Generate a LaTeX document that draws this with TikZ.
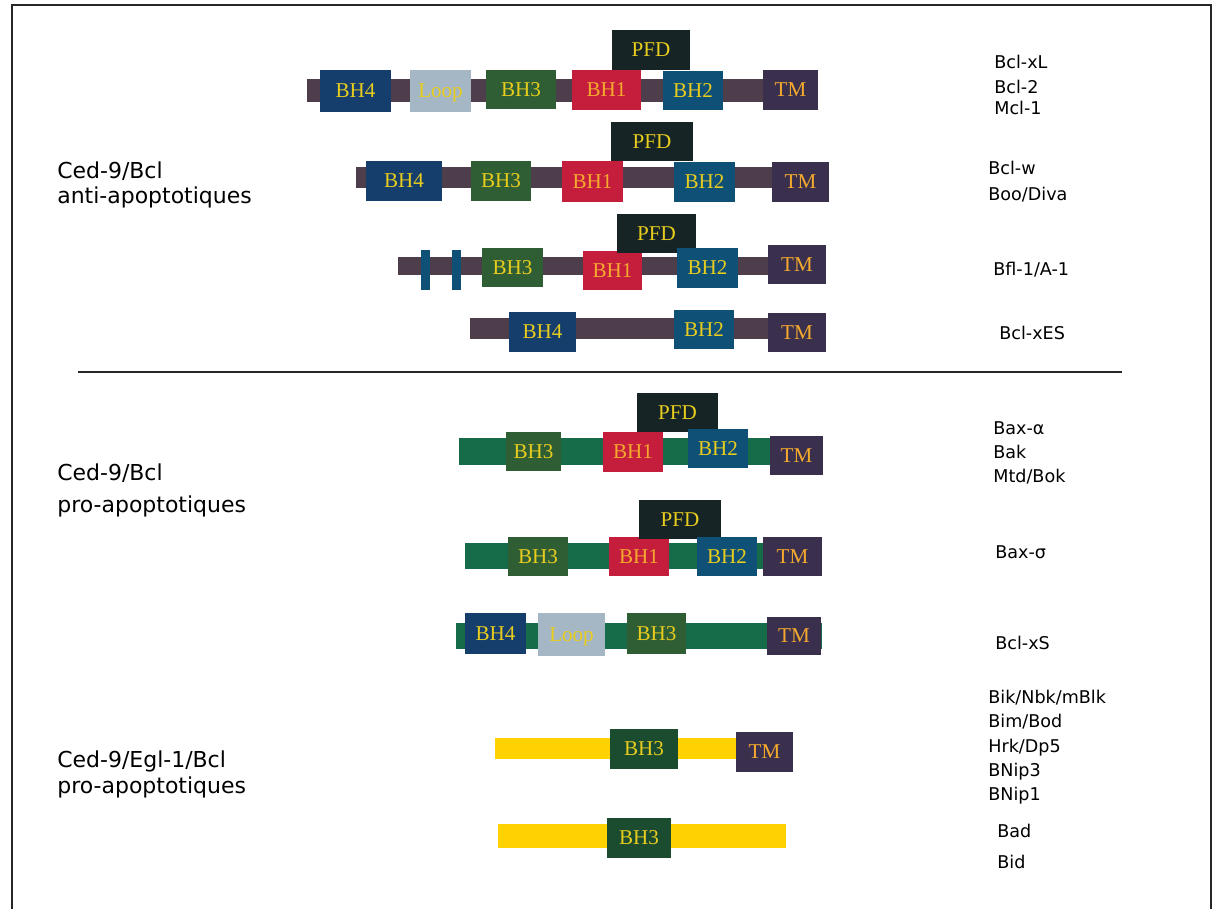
\documentclass[tikz,border=0pt]{standalone}
\usepackage{fontspec}
\setmainfont{Liberation Serif}
\newfontfamily\labelfont{DejaVu Sans}
\usetikzlibrary{fit}
\definecolor{antibar}{RGB}{78,62,76}
\definecolor{probar}{RGB}{22,108,72}
\definecolor{eglbar}{RGB}{255,210,0}
\definecolor{bhfour}{RGB}{22,62,108}
\definecolor{loopgray}{RGB}{165,182,196}
\definecolor{bhthree}{RGB}{48,94,52}
\definecolor{bhthreedark}{RGB}{28,76,48}
\definecolor{bhone}{RGB}{196,30,60}
\definecolor{pfdblack}{RGB}{22,36,38}
\definecolor{bhtwo}{RGB}{14,80,118}
\definecolor{tmpurple}{RGB}{58,48,78}
\definecolor{domyellow}{RGB}{232,205,30}
\definecolor{domorange}{RGB}{245,170,45}

\begin{document}
\begin{tikzpicture}[
  x=0.02cm, y=-0.02cm,
  bar/.style={fill=#1, draw=none, inner sep=0pt},
  domtext/.style={font=\fontsize{12}{12}\selectfont, text=domyellow,
    inner sep=0pt, text height=0.66em, text depth=0pt, yshift=-0.5pt},
  dom/.style 2 args={fill=#1, draw=none, inner sep=0pt,
    label={[domtext]center:#2}},
  hotdom/.style 2 args={fill=#1, draw=none, inner sep=0pt,
    label={[domtext, text=domorange]center:#2}},
  group/.style={anchor=base west, inner sep=0pt, font=\fontsize{12.5}{15}\labelfont},
  prot/.style={anchor=base west, inner sep=0pt, font=\fontsize{10}{12}\labelfont},
  frame/.style={line width=1.2pt, black!85}
]
\useasboundingbox (0,0) rectangle (1214,909);
\draw[frame] (12,909) -- (12,5) -- (1211,5) -- (1211,909);

% anti-apoptotic family
\node[bar=antibar, fit={(307,79)(818,102)}] (r1bar) {};
\node[dom={bhfour}{BH4}, fit={(320,70)(391,112)}] (r1bh4) {};
\node[dom={loopgray}{Loop}, fit={(410,70)(471,112)}] (r1loop) {};
\node[dom={bhthree}{BH3}, fit={(486,70)(556,109)}] (r1bh3) {};
\node[hotdom={bhone}{BH1}, fit={(572,70)(641,110)}] (r1bh1) {};
\node[dom={pfdblack}{PFD}, fit={(612,30)(690,70)}] (r1pfd) {};
\node[dom={bhtwo}{BH2}, fit={(663,71)(723,110)}] (r1bh2) {};
\node[hotdom={tmpurple}{TM}, fit={(763,70)(818,110)}] (r1tm) {};

\node[bar=antibar, fit={(356,167)(829,188)}] (r2bar) {};
\node[dom={bhfour}{BH4}, fit={(366,161)(442,201)}] (r2bh4) {};
\node[dom={bhthree}{BH3}, fit={(471,161)(531,201)}] (r2bh3) {};
\node[hotdom={bhone}{BH1}, fit={(562,161)(623,202)}] (r2bh1) {};
\node[dom={pfdblack}{PFD}, fit={(611,122)(693,161)}] (r2pfd) {};
\node[dom={bhtwo}{BH2}, fit={(674,162)(735,202)}] (r2bh2) {};
\node[hotdom={tmpurple}{TM}, fit={(772,162)(829,202)}] (r2tm) {};

\node[bar=antibar, fit={(398,257)(826,275)}] (r3bar) {};
\node[bar=bhtwo, fit={(421,250)(430,290)}] (r3tick1) {};
\node[bar=bhtwo, fit={(452,250)(461,290)}] (r3tick2) {};
\node[dom={bhthree}{BH3}, fit={(482,248)(543,287)}] (r3bh3) {};
\node[hotdom={bhone}{BH1}, fit={(583,251)(642,290)}] (r3bh1) {};
\node[dom={pfdblack}{PFD}, fit={(617,214)(696,253)}] (r3pfd) {};
\node[dom={bhtwo}{BH2}, fit={(677,248)(738,288)}] (r3bh2) {};
\node[hotdom={tmpurple}{TM}, fit={(768,245)(826,284)}] (r3tm) {};

\node[bar=antibar, fit={(470,318)(826,339)}] (r4bar) {};
\node[dom={bhfour}{BH4}, fit={(509,312)(576,352)}] (r4bh4) {};
\node[dom={bhtwo}{BH2}, fit={(674,310)(734,349)}] (r4bh2) {};
\node[hotdom={tmpurple}{TM}, fit={(768,313)(826,352)}] (r4tm) {};

\coordinate (sepL) at (78,372);
\coordinate (sepR) at (1122,372);
\draw[line width=1.1pt, black!85] (sepL) -- (sepR);

% pro-apoptotic family
\node[bar=probar, fit={(459,438)(822,465)}] (r5bar) {};
\node[dom={bhthree}{BH3}, fit={(506,432)(561,471)}] (r5bh3) {};
\node[hotdom={bhone}{BH1}, fit={(603,432)(663,472)}] (r5bh1) {};
\node[dom={pfdblack}{PFD}, fit={(637,393)(718,432)}] (r5pfd) {};
\node[dom={bhtwo}{BH2}, fit={(688,429)(748,468)}] (r5bh2) {};
\node[hotdom={tmpurple}{TM}, fit={(770,436)(823,475)}] (r5tm) {};

\node[bar=probar, fit={(465,543)(822,569)}] (r6bar) {};
\node[dom={bhthree}{BH3}, fit={(508,537)(568,576)}] (r6bh3) {};
\node[hotdom={bhone}{BH1}, fit={(609,537)(669,576)}] (r6bh1) {};
\node[dom={pfdblack}{PFD}, fit={(639,500)(721,539)}] (r6pfd) {};
\node[dom={bhtwo}{BH2}, fit={(697,537)(757,576)}] (r6bh2) {};
\node[hotdom={tmpurple}{TM}, fit={(763,537)(822,576)}] (r6tm) {};

\node[bar=probar, fit={(456,623)(822,649)}] (r7bar) {};
\node[dom={bhfour}{BH4}, fit={(465,613)(526,654)}] (r7bh4) {};
\node[dom={loopgray}{Loop}, fit={(538,613)(605,656)}] (r7loop) {};
\node[dom={bhthree}{BH3}, fit={(627,613)(686,654)}] (r7bh3) {};
\node[hotdom={tmpurple}{TM}, fit={(767,617)(821,655)}] (r7tm) {};

% BH3-only family
\node[bar=eglbar, fit={(495,738)(737,759)}] (r8bar) {};
\node[dom={bhthreedark}{BH3}, fit={(610,729)(678,769)}] (r8bh3) {};
\node[hotdom={tmpurple}{TM}, fit={(736,732)(793,772)}] (r8tm) {};

\node[bar=eglbar, fit={(498,824)(786,848)}] (r9bar) {};
\node[dom={bhthreedark}{BH3}, fit={(607,818)(671,858)}] (r9bh3) {};

% group names
\node[group] (antiA) at (57,178) {Ced-9/Bcl};
\node[group] (antiB) at (57,203) {anti-apoptotiques};
\node[group] (proA) at (57,480) {Ced-9/Bcl};
\node[group] (proB) at (57,512) {pro-apoptotiques};
\node[group] (eglA) at (57,767) {Ced-9/Egl-1/Bcl};
\node[group] (eglB) at (57,793) {pro-apoptotiques};

% protein names
\node[prot] (bclxl) at (994,69) {Bcl-xL};
\node[prot] (bcltwo) at (994,93) {Bcl-2};
\node[prot] (mclone) at (994,114) {Mcl-1};
\node[prot] (bclw) at (988,174) {Bcl-w};
\node[prot] (boo) at (988,200) {Boo/Diva};
\node[prot] (bfl) at (993,275) {Bfl-1/A-1};
\node[prot] (bclxes) at (999,339) {Bcl-xES};
\node[prot] (baxa) at (993,434) {Bax-α};
\node[prot] (bak) at (993,458) {Bak};
\node[prot] (mtd) at (993,482) {Mtd/Bok};
\node[prot] (baxs) at (995,558) {Bax-σ};
\node[prot] (bclxs) at (995,649) {Bcl-xS};
\node[prot] (bik) at (988,703) {Bik/Nbk/mBlk};
\node[prot] (bim) at (988,727) {Bim/Bod};
\node[prot] (hrk) at (988,752) {Hrk/Dp5};
\node[prot] (bnipthree) at (988,776) {BNip3};
\node[prot] (bnipone) at (988,800) {BNip1};
\node[prot] (bad) at (997,837) {Bad};
\node[prot] (bid) at (997,868) {Bid};
\end{tikzpicture}
\end{document}
